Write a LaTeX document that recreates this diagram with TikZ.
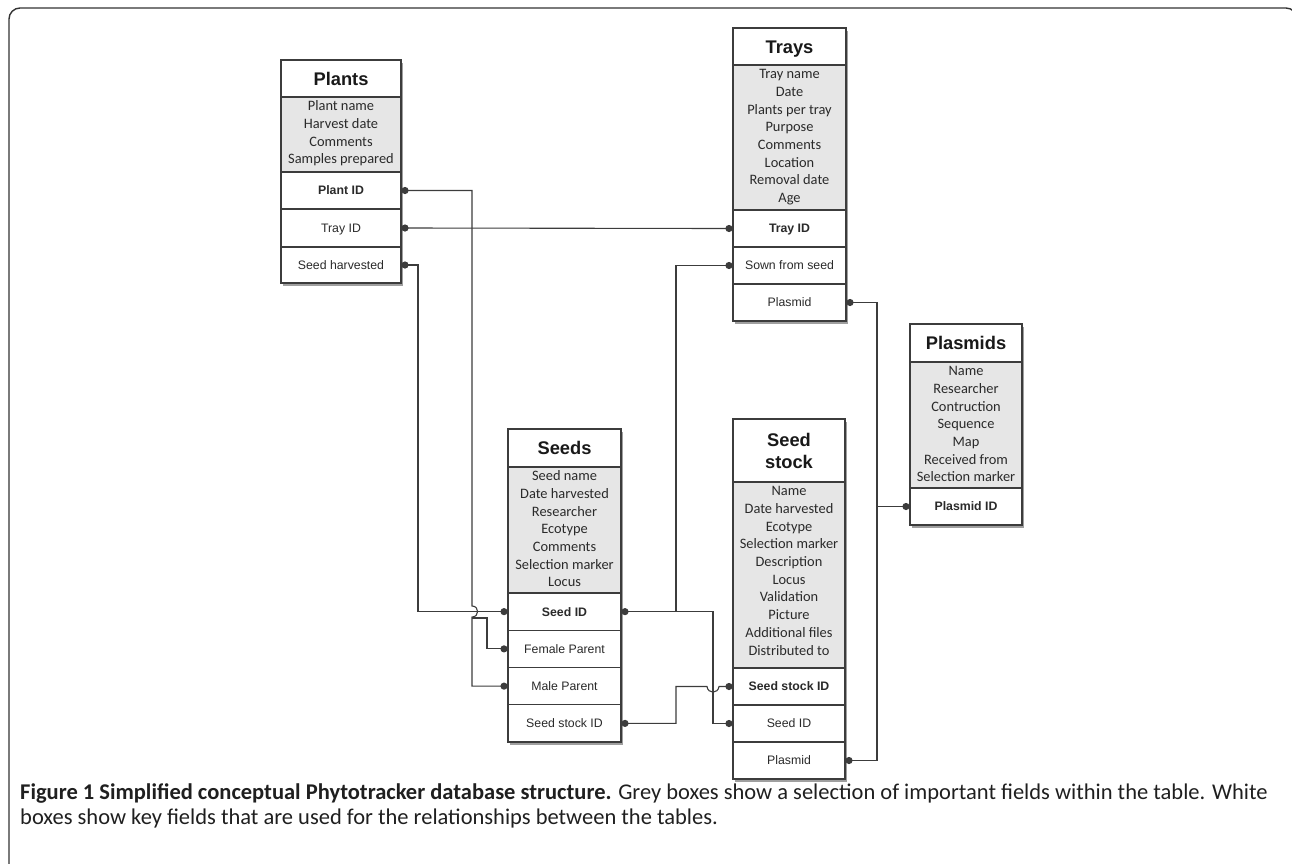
\documentclass[tikz,border=0pt]{standalone}
\usepackage{fontspec}
\newfontfamily\fieldfont{Carlito}
\newfontfamily\keyfont{Liberation Sans}
\newfontfamily\capfont{Carlito}
\usetikzlibrary{shadows}
\definecolor{lc}{HTML}{3C3C3C}
\definecolor{greyfill}{HTML}{E6E6E6}
\definecolor{txt}{HTML}{2A2A2A}
\begin{document}
\begin{tikzpicture}[x=1pt,y=-1pt,
  tbl/.style={draw=lc, line width=1.2pt, fill=white, inner sep=0pt, outer sep=0pt,
    drop shadow={shadow xshift=1.5pt,shadow yshift=-2.5pt,opacity=.5,fill=black!75}},
  ttlbase/.style={draw=lc, line width=1.2pt, inner sep=0pt, outer sep=0pt, anchor=north, align=center,
    font=\keyfont\bfseries\fontsize{18.3}{22}\selectfont, text=black!90},
  ttl/.style={ttlbase, text height=13.1pt, text depth=0pt},
  grey/.style={draw=lc, line width=1.2pt, fill=greyfill, inner sep=0pt, outer sep=0pt, anchor=north},
  gtext/.style={inner sep=0pt, anchor=north, align=center, font=\fieldfont\fontsize{14.4}{17.7}\selectfont, text=txt},
  key/.style={draw=lc, line width=1.2pt, inner sep=0pt, outer sep=0pt, anchor=north,
    font=\keyfont\fontsize{12.3}{14}\selectfont, text=txt, text height=8.9pt, text depth=0pt},
  conn/.style={draw=lc, line width=1.1pt},
  frame/.style={draw=black!80, line width=1.4pt, rounded corners=11pt}
]
\useasboundingbox (0,0) rectangle (1292,863);
\draw[frame] (9,900) -- (9,8) -- (1297,8) -- (1297,900);

% ---------- Plants ----------
\begin{scope}[every node/.append style={minimum width=120pt}]
\node[tbl, minimum height=223pt] (plBox) at (341,171.5) {};
\node[ttl, minimum height=37pt] (plT) at (plBox.north) {Plants};
\node[grey, minimum height=75pt] (plG) at (plT.south) {};
\node[gtext] (plGt) at (plG.north) {\rule{0pt}{13.5pt}Plant name\\Harvest date\\Comments\\Samples prepared};
\node[key, minimum height=37pt] (plPID) at (plG.south) {\bfseries Plant ID};
\node[key, minimum height=38pt] (plTray) at (plPID.south) {Tray ID};
\node[key, minimum height=36pt] (plSH) at (plTray.south) {Seed harvested};
\end{scope}

% ---------- Trays ----------
\begin{scope}[every node/.append style={minimum width=113pt}]
\node[tbl, minimum height=293pt] (trBox) at (789.5,174.5) {};
\node[ttl, minimum height=37pt] (trT) at (trBox.north) {Trays};
\node[grey, minimum height=145pt] (trG) at (trT.south) {};
\node[gtext] (trGt) at (trG.north) {\rule{0pt}{13.5pt}Tray name\\Date\\Plants per tray\\Purpose\\Comments\\Location\\Removal date\\Age};
\node[key, minimum height=37pt] (trTray) at (trG.south) {\bfseries Tray ID};
\node[key, minimum height=37pt] (trSown) at (trTray.south) {Sown from seed};
\node[key, minimum height=37pt] (trPl) at (trSown.south) {Plasmid};
\end{scope}

% ---------- Plasmids ----------
\begin{scope}[every node/.append style={minimum width=112pt}]
\node[tbl, minimum height=201pt] (psBox) at (966,424.5) {};
\node[ttl, minimum height=38pt] (psT) at (psBox.north) {Plasmids};
\node[grey, minimum height=126pt] (psG) at (psT.south) {};
\node[gtext] (psGt) at (psG.north) {\rule{0pt}{13.5pt}Name\\Researcher\\Contruction\\Sequence\\Map\\Received from\\Selection marker};
\node[key, minimum height=37pt] (psID) at (psG.south) {\bfseries Plasmid ID};
\end{scope}

% ---------- Seeds ----------
\begin{scope}[every node/.append style={minimum width=113pt}]
\node[tbl, minimum height=313pt] (sdBox) at (564.5,585.5) {};
\node[ttl, minimum height=38pt] (sdT) at (sdBox.north) {Seeds};
\node[grey, minimum height=126pt] (sdG) at (sdT.south) {};
\node[gtext] (sdGt) at (sdG.north) {\rule{0pt}{13.5pt}Seed name\\Date harvested\\Researcher\\Ecotype\\Comments\\Selection marker\\Locus};
\node[key, minimum height=37.25pt] (sdID) at (sdG.south) {\bfseries Seed ID};
\node[key, minimum height=37.25pt] (sdFem) at (sdID.south) {Female Parent};
\node[key, minimum height=37.25pt] (sdMale) at (sdFem.south) {Male Parent};
\node[key, minimum height=37.25pt] (sdSS) at (sdMale.south) {Seed stock ID};
\end{scope}

% ---------- Seed stock ----------
\begin{scope}[every node/.append style={minimum width=112pt}]
\node[tbl, minimum height=360pt] (ssBox) at (789,599) {};
\node[ttlbase, minimum height=63pt] (ssT) at (ssBox.north) {Seed\\stock};
\node[grey, minimum height=186pt] (ssG) at (ssT.south) {};
\node[gtext] (ssGt) at (ssG.north) {\rule{0pt}{13.5pt}Name\\Date harvested\\Ecotype\\Selection marker\\Description\\Locus\\Validation\\Picture\\Additional files\\Distributed to};
\node[key, minimum height=37pt] (ssSS) at (ssG.south) {\bfseries Seed stock ID};
\node[key, minimum height=37pt] (ssSeed) at (ssSS.south) {Seed ID};
\node[key, minimum height=37pt] (ssPl) at (ssSeed.south) {Plasmid};
\end{scope}

% ---------- connection points ----------
\coordinate (dPlPID) at ([xshift=4pt]plPID.east);
\coordinate (dPlTray) at ([xshift=4pt]plTray.east);
\coordinate (dPlSH) at ([xshift=4pt]plSH.east);
\coordinate (dTrTray) at ([xshift=-4pt]trTray.west);
\coordinate (dTrSown) at ([xshift=-4pt]trSown.west);
\coordinate (dTrPl) at ([xshift=4pt]trPl.east);
\coordinate (dPsID) at ([xshift=-4pt]psID.west);
\coordinate (dSdIDl) at ([xshift=-4pt]sdID.west);
\coordinate (dSdIDr) at ([xshift=4pt]sdID.east);
\coordinate (dSdFem) at ([xshift=-4pt]sdFem.west);
\coordinate (dSdMale) at ([xshift=-4pt]sdMale.west);
\coordinate (dSdSS) at ([xshift=4pt]sdSS.east);
\coordinate (dSsSS) at ([xshift=-4pt]ssSS.west);
\coordinate (dSsSeed) at ([xshift=-4pt]ssSeed.west);
\coordinate (dSsPl) at ([xshift=4pt]ssPl.east);
% routing columns
\coordinate (x418) at (418,0);
\coordinate (x472) at (472,0);
\coordinate (x487) at (487,0);
\coordinate (x676) at (676,0);
\coordinate (x713) at (713,0);
\coordinate (x877) at (877,0);

% ---------- connectors ----------
\draw[conn] (dPlPID) -| (472,606) .. controls (479.5,606) and (479.5,617) .. (472,617) |- (dSdMale);
\draw[conn] (472,618) -- (x487 |- 0,618) |- (dSdFem);
\draw[conn] (dPlTray) -- (dTrTray);
\draw[conn] (dPlSH) -| (x418 |- dSdIDl) -- (dSdIDl);
\draw[conn] (dTrSown) -| (x676 |- dSdIDr);
\draw[conn] (dSdIDr) -| (x713 |- dSsSeed) -- (dSsSeed);
\draw[conn] (dSdSS) -| (x676 |- dSsSS) -- (707,686.5) .. controls (708,694) and (718,694) .. (719,686.5) -- (dSsSS);
\draw[conn] (dTrPl) -| (x877 |- dSsPl) -- (dSsPl);
\draw[conn] (x877 |- dPsID) -- (dPsID);

\foreach \d in {dPlPID,dPlTray,dPlSH,dTrTray,dTrSown,dTrPl,dPsID,dSdIDl,dSdIDr,dSdFem,dSdMale,dSdSS,dSsSS,dSsSeed,dSsPl}
  \fill[lc] (\d) circle[radius=3.6pt];

% ---------- caption ----------
\node[anchor=base west, inner sep=0pt, font=\capfont\fontsize{22.5}{26}\selectfont, text=black!88] (cap1) at (20,799)
  {\textbf{Figure 1 Simplified conceptual Phytotracker database structure.} Grey boxes show a selection of important fields within the table. White};
\node[anchor=base west, inner sep=0pt, font=\capfont\fontsize{22.5}{26}\selectfont, text=black!88] (cap2) at (20,824)
  {boxes show key fields that are used for the relationships between the tables.};
\end{tikzpicture}
\end{document}
